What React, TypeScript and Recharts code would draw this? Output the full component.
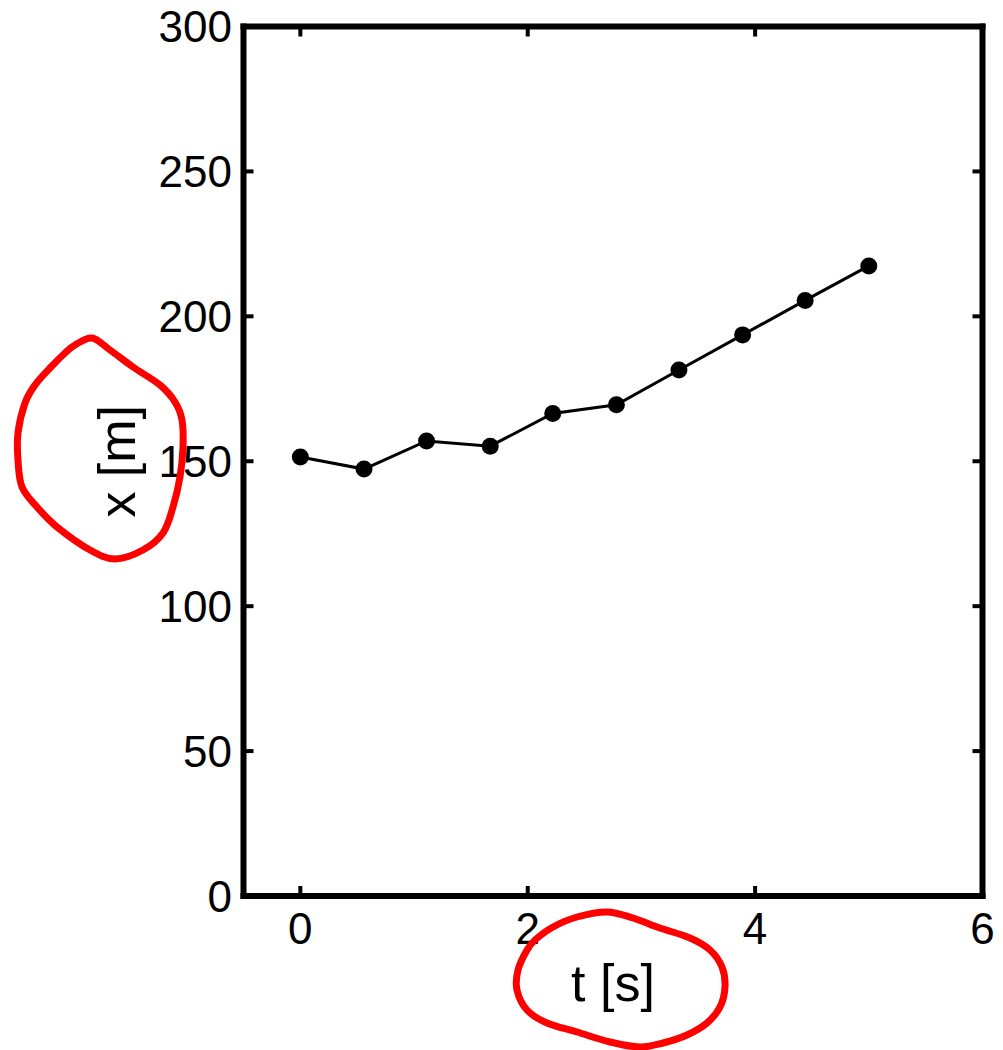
import { LineChart, Line, XAxis, YAxis } from "recharts";

// time samples [s] and positions [m]
const times = [0, 0.56, 1.11, 1.67, 2.22, 2.78, 3.33, 3.89, 4.44, 5];
const positions = [151.5, 147.3, 157, 155.2, 166.5, 169.5, 181.5, 193.6, 205.5, 217.4];

const xTicks = [0, 2, 4, 6];
const yTicks = [0, 50, 100, 150, 200, 250, 300];
const xDomain = [-0.5, 6];
const yDomain = [0, 300];

const data = times.map((t, i) => ({ t, x: positions[i] }));

const FONT = "'Liberation Sans', Arial, Helvetica, sans-serif";
const frame = { stroke: "#000", strokeWidth: 6, strokeLinecap: "square" as const };
const tickLine = { stroke: "#000", strokeWidth: 4 };
const noLabel = () => "";

// hand-drawn red rings around the axis titles
const ringY = [
  [65, 353], [75, 345], [92, 338], [110, 350], [133, 367], [160, 385], [175, 402],
  [182, 420], [183, 447], [180, 477], [173, 507], [163, 533], [143, 550], [115, 559],
  [90, 550], [57, 527], [37, 507], [22, 487], [18, 460], [18, 433], [25, 403],
  [35, 385], [50, 368],
];
const ringX = [
  [535, 940], [553, 927], [577, 917], [607, 912], [633, 918], [660, 928], [690, 938],
  [710, 950], [722, 967], [725, 987], [720, 1007], [707, 1023], [687, 1035],
  [663, 1043], [640, 1047], [610, 1042], [577, 1032], [547, 1023], [527, 1010],
  [517, 990], [518, 970], [527, 950],
];

function smoothClosed(pts: number[][]) {
  const n = pts.length;
  let d = `M${pts[0][0]},${pts[0][1]}`;
  for (let i = 0; i < n; i++) {
    const p0 = pts[(i - 1 + n) % n];
    const p1 = pts[i];
    const p2 = pts[(i + 1) % n];
    const p3 = pts[(i + 2) % n];
    const c1x = p1[0] + (p2[0] - p0[0]) / 6;
    const c1y = p1[1] + (p2[1] - p0[1]) / 6;
    const c2x = p2[0] - (p3[0] - p1[0]) / 6;
    const c2y = p2[1] - (p3[1] - p1[1]) / 6;
    d += ` C${c1x},${c1y} ${c2x},${c2y} ${p2[0]},${p2[1]}`;
  }
  return d + " Z";
}

const YTitle = (props: any) => {
  const vb = props.viewBox || {};
  const cx = vb.x + 41.5;
  const cy = vb.y + vb.height / 2;
  return (
    <text
      x={cx}
      y={cy}
      transform={`rotate(-90, ${cx}, ${cy})`}
      textAnchor="middle"
      fontFamily={FONT}
      fontSize={52}
      fill="#000"
    >
      x [m]
    </text>
  );
};

const XTitle = (props: any) => {
  const vb = props.viewBox || {};
  return (
    <text
      x={vb.x + vb.width / 2}
      y={vb.y + 105}
      textAnchor="middle"
      fontFamily={FONT}
      fontSize={52}
      fill="#000"
    >
      t [s]
    </text>
  );
};

export default function App() {
  return (
    <div style={{ position: "absolute", left: 0, top: 0, width: 1003, height: 1050, background: "#fff" }}>
      <LineChart
        width={1003}
        height={1050}
        data={data}
        margin={{ top: 25.5, right: 19.5, bottom: 44, left: 93.5 }}
      >
        <XAxis
          dataKey="t"
          type="number"
          domain={xDomain}
          ticks={xTicks}
          allowDataOverflow
          height={110}
          axisLine={frame}
          tickLine={tickLine}
          tickSize={-10}
          tickMargin={27}
          tick={{ fill: "#000", fontSize: 44, fontFamily: FONT }}
          label={<XTitle />}
        />
        <XAxis
          xAxisId="top"
          dataKey="t"
          orientation="top"
          type="number"
          domain={xDomain}
          ticks={xTicks}
          allowDataOverflow
          height={1}
          axisLine={frame}
          tickLine={tickLine}
          tickSize={-10}
          tickFormatter={noLabel}
        />
        <YAxis
          type="number"
          domain={yDomain}
          ticks={yTicks}
          allowDataOverflow
          width={150}
          axisLine={frame}
          tickLine={tickLine}
          tickSize={-10}
          tickMargin={21.5}
          tick={{ fill: "#000", fontSize: 44, fontFamily: FONT }}
          label={<YTitle />}
        />
        <YAxis
          yAxisId="right"
          dataKey="x"
          orientation="right"
          type="number"
          domain={yDomain}
          ticks={yTicks}
          allowDataOverflow
          width={1}
          axisLine={frame}
          tickLine={tickLine}
          tickSize={-10}
          tickFormatter={noLabel}
        />
        <Line
          dataKey="x"
          stroke="#000"
          strokeWidth={3}
          dot={{ r: 8.5, fill: "#000", stroke: "#000", strokeWidth: 0 }}
          isAnimationActive={false}
        />
      </LineChart>
      <svg
        width={1003}
        height={1050}
        style={{ position: "absolute", left: 0, top: 0, pointerEvents: "none" }}
      >
        <path d={smoothClosed(ringY)} fill="none" stroke="#ff0000" strokeWidth={7} strokeLinejoin="round" />
        <path d={smoothClosed(ringX)} fill="none" stroke="#ff0000" strokeWidth={7} strokeLinejoin="round" />
      </svg>
    </div>
  );
}
